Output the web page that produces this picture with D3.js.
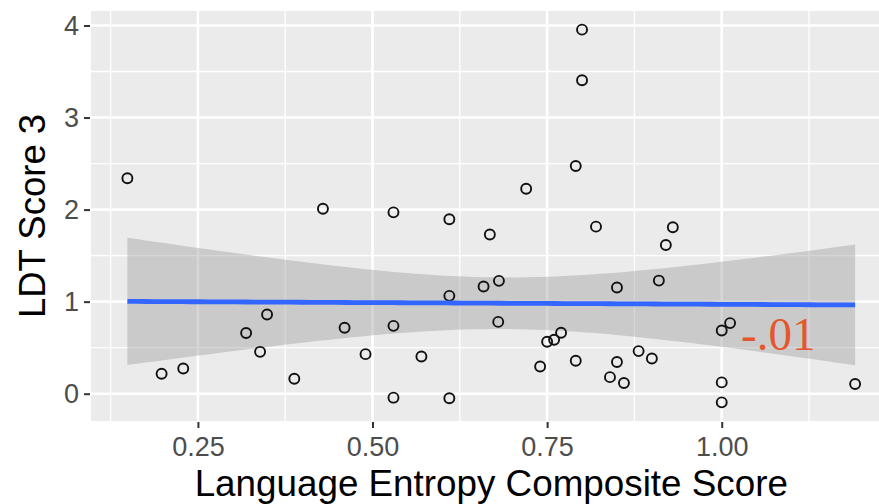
<!DOCTYPE html>
<html>
<head>
<meta charset="utf-8">
<script src="https://cdn.jsdelivr.net/npm/d3@7"></script>
<style>
  html, body { margin: 0; padding: 0; background: #ffffff; }
  svg { display: block; }
</style>
</head>
<body>
<svg id="chart" width="879" height="504"></svg>
<script>
// ---- data ----
const entropy = [0.149, 0.198, 0.229, 0.319, 0.349, 0.339, 0.388, 0.429, 0.530, 0.610,
                 0.668, 0.659, 0.610, 0.460, 0.530, 0.490, 0.570, 0.530, 0.610, 0.791,
                 0.720, 0.820, 0.930, 0.920, 0.681, 0.850, 0.910, 0.680, 0.750, 0.760,
                 0.770, 0.740, 0.791, 0.850, 0.840, 0.860, 0.881, 0.900, 1.000, 1.012,
                 1.000, 1.000, 1.191, 0.800, 0.800];
const ldt3 =    [2.340, 0.217, 0.274, 0.660, 0.860, 0.455, 0.162, 2.010, 1.970, 1.895,
                 1.730, 1.164, 1.063, 0.716, 0.737, 0.430, 0.405, -0.043, -0.050, 2.473,
                 2.227, 1.815, 1.808, 1.616, 1.226, 1.153, 1.229, 0.780, 0.564, 0.586,
                 0.662, 0.296, 0.358, 0.344, 0.180, 0.116, 0.463, 0.383, 0.687, 0.767,
                 0.123, -0.094, 0.105, 3.955, 3.405];
const xTicks = [0.25, 0.50, 0.75, 1.00];
const xTickLabels = ["0.25", "0.50", "0.75", "1.00"];
const yTicks = [0, 1, 2, 3, 4];
const yTickLabels = ["0", "1", "2", "3", "4"];
const xMinor = [0.125, 0.375, 0.625, 0.875, 1.125];
const yMinor = [0.5, 1.5, 2.5, 3.5];
const xTitle = "Language Entropy Composite Score";
const yTitle = "LDT Score 3";
const annotation = "-.01";

// ---- layout ----
const panel = { left: 91, top: 11, right: 891.5, bottom: 421 };
const svg = d3.select("#chart");

// ggplot-style 5% expansion of the data range
function expand(ext) { const d = (ext[1] - ext[0]) * 0.05; return [ext[0] - d, ext[1] + d]; }
const x = d3.scaleLinear().domain(expand(d3.extent(entropy))).range([panel.left, panel.right]);
const y = d3.scaleLinear().domain(expand(d3.extent(ldt3))).range([panel.bottom, panel.top]);

// clip for panel
svg.append("defs").append("clipPath").attr("id", "clip")
  .append("rect").attr("x", panel.left).attr("y", panel.top)
  .attr("width", panel.right - panel.left).attr("height", panel.bottom - panel.top);

const g = svg.append("g").attr("clip-path", "url(#clip)");
g.append("rect").attr("x", panel.left).attr("y", panel.top)
  .attr("width", panel.right - panel.left).attr("height", panel.bottom - panel.top)
  .attr("fill", "#EBEBEB");

// minor grid
g.selectAll(".xminor").data(xMinor).join("line")
  .attr("x1", d => x(d)).attr("x2", d => x(d)).attr("y1", panel.top).attr("y2", panel.bottom)
  .attr("stroke", "#fff").attr("stroke-width", 1.3);
g.selectAll(".yminor").data(yMinor).join("line")
  .attr("y1", d => y(d)).attr("y2", d => y(d)).attr("x1", panel.left).attr("x2", panel.right)
  .attr("stroke", "#fff").attr("stroke-width", 1.3);
// major grid
g.selectAll(".xmajor").data(xTicks).join("line")
  .attr("x1", d => x(d)).attr("x2", d => x(d)).attr("y1", panel.top).attr("y2", panel.bottom)
  .attr("stroke", "#fff").attr("stroke-width", 2.6);
g.selectAll(".ymajor").data(yTicks).join("line")
  .attr("y1", d => y(d)).attr("y2", d => y(d)).attr("x1", panel.left).attr("x2", panel.right)
  .attr("stroke", "#fff").attr("stroke-width", 2.6);

// ---- linear fit with 95% confidence band (as geom_smooth(method = "lm")) ----
const n = entropy.length;
const mx = d3.mean(entropy), my = d3.mean(ldt3);
let sxx = 0, sxy = 0;
for (let i = 0; i < n; i++) { sxx += (entropy[i] - mx) ** 2; sxy += (entropy[i] - mx) * (ldt3[i] - my); }
const slope = sxy / sxx, intercept = my - slope * mx;
let sse = 0;
for (let i = 0; i < n; i++) sse += (ldt3[i] - (intercept + slope * entropy[i])) ** 2;
const sRes = Math.sqrt(sse / (n - 2));
const tq = 2.0167; // t(0.975, df = 43)
const [xa, xb] = d3.extent(entropy);
const fit = d3.range(0, 81).map(k => {
  const xv = xa + (xb - xa) * k / 80;
  const yv = intercept + slope * xv;
  const se = sRes * Math.sqrt(1 / n + (xv - mx) ** 2 / sxx);
  return { x: xv, y: yv, lo: yv - tq * se, hi: yv + tq * se };
});

g.append("path").datum(fit)
  .attr("d", d3.area().x(d => x(d.x)).y0(d => y(d.lo)).y1(d => y(d.hi)))
  .attr("fill", "#999999").attr("fill-opacity", 0.4);

// points
g.selectAll(".pt").data(entropy.map((v, i) => [v, ldt3[i]])).join("circle")
  .attr("cx", d => x(d[0])).attr("cy", d => y(d[1])).attr("r", 5)
  .attr("fill", "none").attr("stroke", "#111").attr("stroke-width", 1.9);

// fitted line
g.append("path").datum(fit)
  .attr("d", d3.line().x(d => x(d.x)).y(d => y(d.y)))
  .attr("fill", "none").attr("stroke", "#3366FF").attr("stroke-width", 4.8);

// ---- axes ----
const xAxis = d3.axisBottom(x).tickValues(xTicks).tickFormat((d, i) => xTickLabels[i])
  .tickSize(6).tickPadding(9);
const xa_g = svg.append("g").attr("transform", `translate(0,${panel.bottom + 1})`).call(xAxis);
xa_g.select(".domain").remove();
xa_g.selectAll("line").attr("stroke", "#333").attr("stroke-width", 2);
xa_g.selectAll("text").attr("fill", "#4D4D4D").attr("font-family", "Liberation Sans, Arial, sans-serif")
  .attr("font-size", 27);

const yAxis = d3.axisLeft(y).tickValues(yTicks).tickFormat((d, i) => yTickLabels[i])
  .tickSize(6).tickPadding(5);
const ya_g = svg.append("g").attr("transform", `translate(${panel.left - 1},0)`).call(yAxis);
ya_g.select(".domain").remove();
ya_g.selectAll("line").attr("stroke", "#333").attr("stroke-width", 2);
ya_g.selectAll("text").attr("fill", "#4D4D4D").attr("font-family", "Liberation Sans, Arial, sans-serif")
  .attr("font-size", 27);

// titles
svg.append("text").attr("x", (panel.left + panel.right) / 2).attr("y", 496)
  .attr("text-anchor", "middle").attr("font-family", "Liberation Sans, Arial, sans-serif")
  .attr("font-size", 36.8).attr("fill", "#000").text(xTitle);
svg.append("text").attr("transform", `translate(45,${(panel.top + panel.bottom) / 2}) rotate(-90)`)
  .attr("text-anchor", "middle").attr("font-family", "Liberation Sans, Arial, sans-serif")
  .attr("font-size", 36.5).attr("fill", "#000").text(yTitle);

// annotation
svg.append("text").attr("x", 741).attr("y", 350)
  .attr("font-family", "Liberation Serif, Times New Roman, serif")
  .attr("font-size", 47).attr("fill", "#E4572E").text(annotation);
</script>
</body>
</html>
